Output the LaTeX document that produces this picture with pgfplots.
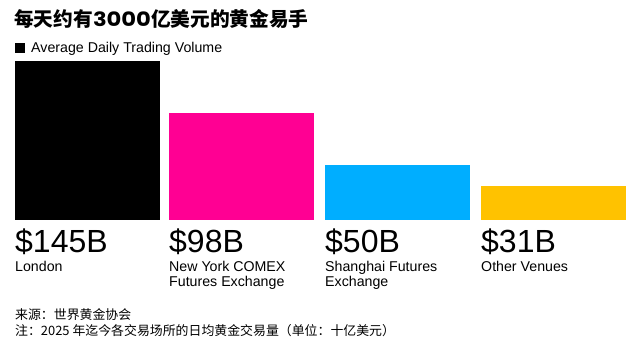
\documentclass[border=0pt]{standalone}
\usepackage{fontspec}
\setmainfont{Liberation Sans}
\newfontfamily\cjk{Noto Sans CJK SC}
\newfontfamily\pop{Poppins}
\usepackage{pgfplots}
\pgfplotsset{compat=1.18}
\definecolor{cblack}{HTML}{000000}
\definecolor{cpink}{HTML}{FF0093}
\definecolor{ccyan}{HTML}{00AEFF}
\definecolor{cyellow}{HTML}{FFC200}
\begin{document}
\begin{tikzpicture}[x=1pt,y=1pt]
\useasboundingbox (0,0) rectangle (640,351);
\begin{axis}[at={(15pt,131pt)}, anchor=south west, scale only axis,
  width=611pt, height=159pt, xmin=15, xmax=626, ymin=0, ymax=145,
  axis lines=none, ybar, bar width=145, bar shift=0pt, clip=false]
\addplot[fill=cblack, draw=none] coordinates {(87.5,145)};
\addplot[fill=cpink, draw=none] coordinates {(241.5,98)};
\addplot[fill=ccyan, draw=none] coordinates {(397.5,50)};
\addplot[fill=cyellow, draw=none] coordinates {(553.5,31)};
\end{axis}
% title
\node[anchor=base west, inner sep=0pt] at (14,324) {\cjk\bfseries\fontsize{19.7}{22}\selectfont 每天约有{\pop\bfseries\fontsize{19.7}{22}\selectfont\scalebox{1.15}[1]{3000}}亿美元的黄金易手};
% legend
\fill[black] (15,298) rectangle (25,308);
\node[anchor=base west, inner sep=0pt] at (31,298.5) {\fontsize{14.2}{16}\selectfont Average Daily Trading Volume};
% values
\foreach \x/\v in {15/\$145B, 169/\$98B, 325/\$50B, 481/\$31B}{
  \node[anchor=base west, inner sep=0pt] at (\x,98) {\fontsize{32}{34}\selectfont \v};
}
\node[anchor=base west, inner sep=0pt] at (15,80) {\fontsize{14.2}{16}\selectfont London};
\node[anchor=base west, inner sep=0pt] at (169,80) {\fontsize{14.2}{16}\selectfont New York COMEX};
\node[anchor=base west, inner sep=0pt] at (169,64) {\fontsize{14.2}{16}\selectfont Futures Exchange};
\node[anchor=base west, inner sep=0pt] at (325,80) {\fontsize{14.2}{16}\selectfont Shanghai Futures};
\node[anchor=base west, inner sep=0pt] at (325,64) {\fontsize{14.2}{16}\selectfont Exchange};
\node[anchor=base west, inner sep=0pt] at (481,80) {\fontsize{14.2}{16}\selectfont Other Venues};
% footnotes
\node[anchor=base west, inner sep=0pt] at (15,32) {\cjk\fontsize{12.9}{15}\selectfont 来源：世界黄金协会};
\node[anchor=base west, inner sep=0pt] at (15,16) {\cjk\fontsize{12.9}{15}\selectfont 注：2025 年迄今各交易场所的日均黄金交易量（单位：十亿美元）};
\end{tikzpicture}
\end{document}
